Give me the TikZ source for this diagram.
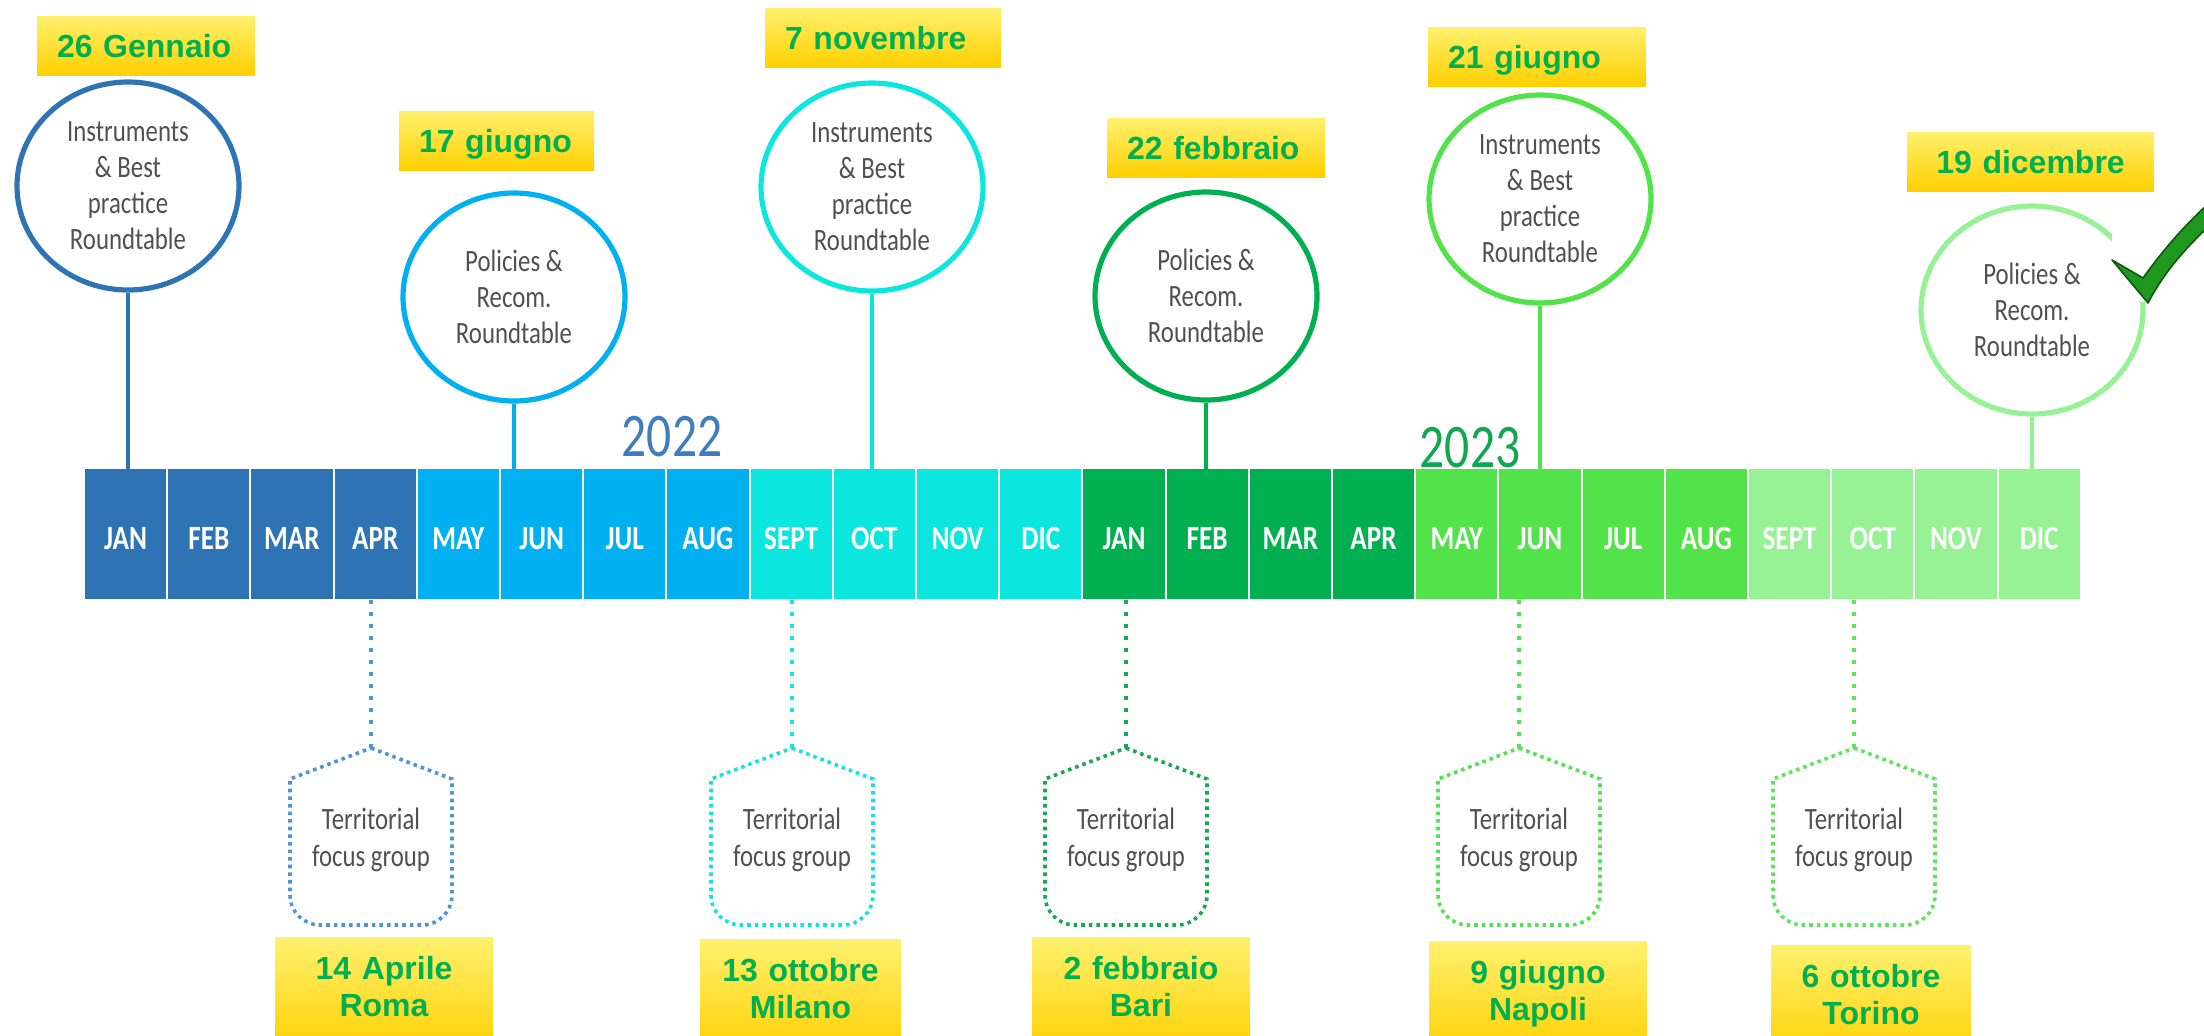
\documentclass[tikz,border=0pt]{standalone}
\usepackage{fontspec}
\setmainfont{Liberation Sans}
\newfontfamily\condfont[FakeStretch=0.8]{Carlito}
\usepackage{tikz}
\usetikzlibrary{shapes.geometric,calc}

% 颜色
\definecolor{bar0}{HTML}{2E74B5}
\definecolor{bar1}{HTML}{00B0F0}
\definecolor{bar2}{HTML}{0BE6DF}
\definecolor{bar3}{HTML}{00B050}
\definecolor{bar4}{HTML}{52E34B}
\definecolor{bar5}{HTML}{96F295}
\definecolor{fg1c}{HTML}{4F93D8}
\definecolor{fg2c}{HTML}{14E2E2}
\definecolor{fg3c}{HTML}{17A852}
\definecolor{fg4c}{HTML}{52E352}
\definecolor{fg5c}{HTML}{5CE65C}
\definecolor{txtgray}{HTML}{505050}
\definecolor{dategreen}{HTML}{00B050}
\definecolor{boxtop}{HTML}{FFF06E}
\definecolor{boxbot}{HTML}{FFD000}
\definecolor{yr22}{HTML}{3F7DC0}
\definecolor{yr23}{HTML}{10A84F}
\definecolor{checkfill}{HTML}{1E981E}
\definecolor{checkline}{HTML}{0B5A0B}

\tikzset{
    month/.style={rectangle, inner sep=0pt, minimum width=40.6pt, minimum height=65pt,
        text=white, font=\condfont\bfseries\fontsize{17}{20}\selectfont,
        text height=15pt, text depth=0pt},
    roundtable/.style={ellipse, line width=2.6pt, inner sep=0pt, minimum width=111pt,
        minimum height=104pt, align=center, text=txtgray,
        font=\condfont\fontsize{15.5}{18}\selectfont},
    stem/.style={line width=2.2pt},
    datebox/.style={top color=boxtop, bottom color=boxbot, text=dategreen,
        font=\bfseries\fontsize{16}{18.5}\selectfont, inner xsep=10pt, inner ysep=9pt,
        text height=11.5pt, text depth=0pt, align=left},
    placebox/.style={top color=boxtop, bottom color=boxbot, text=dategreen,
        font=\bfseries\fontsize{16}{18.5}\selectfont, inner xsep=0pt, inner ysep=9pt,
        align=center, anchor=north, text height=12pt, text depth=28pt},
    fgtext/.style={align=center, text=txtgray, font=\condfont\fontsize{15.5}{18.5}\selectfont},
    dotstem/.style={line width=1.9pt, dash pattern=on 2pt off 4pt},
    dotline/.style={line width=1.8pt, dash pattern=on 1.8pt off 2pt},
    yearlbl/.style={font=\condfont\fontsize{31}{34}\selectfont},
    checkmark/.style={fill=checkfill, draw=checkline, line width=0.8pt, line join=round}
}

\begin{document}
\begin{tikzpicture}[x=0.5pt,y=-0.5pt]
    \useasboundingbox (0,0) rectangle (2204,1035);
    \clip (0,0) rectangle (2204,1035);

    % 月份条
    \foreach \m [count=\i] in {JAN,FEB,MAR,APR,MAY,JUN,JUL,AUG,SEPT,OCT,NOV,DIC,
                               JAN,FEB,MAR,APR,MAY,JUN,JUL,AUG,SEPT,OCT,NOV,DIC} {
        \pgfmathtruncatemacro{\g}{(\i-1)/4}
        \node[month, fill=bar\g] (m\i) at ({84+83.2*(\i-0.5)},534) {\m};
    }

    % 年份
    \node[yearlbl, text=yr22] (y22) at (672,437) {2022};
    \node[yearlbl, text=yr23] (y23) at (1470,448) {2023};

    % 圆圈 Roundtable
    \node[roundtable, draw=bar0] (rt1) at (128,186) {Instruments\\\& Best\\practice\\Roundtable};
    \node[roundtable, draw=bar1] (rt2) at (514,297) {Policies \&\\Recom.\\Roundtable};
    \node[roundtable, draw=bar2] (rt3) at (872,187) {Instruments\\\& Best\\practice\\Roundtable};
    \node[roundtable, draw=bar3] (rt4) at (1206,296) {Policies \&\\Recom.\\Roundtable};
    \node[roundtable, draw=bar4] (rt5) at (1540,199) {Instruments\\\& Best\\practice\\Roundtable};
    \node[roundtable, draw=bar5] (rt6) at (2032,310) {Policies \&\\Recom.\\Roundtable};

    % 圆圈到月份的竖线
    \foreach \n/\mm/\col in {1/1/bar0,2/6/bar1,3/10/bar2,4/14/bar3,5/18/bar4,6/24/bar5}
        \draw[stem, draw=\col] (rt\n.south) -- (rt\n.south |- m\mm.north);

    % 上方日期
    \node[datebox, text width=89pt] (d1) at (146,45.5) {26 Gennaio};
    \node[datebox, text width=77.5pt] (d2) at (496.5,141) {17 giugno};
    \node[datebox, text width=98pt] (d3) at (883,37.5) {7 novembre};
    \node[datebox, text width=89pt] (d4) at (1216,147.5) {22 febbraio};
    \node[datebox, text width=89pt] (d5) at (1537,56.5) {21 giugno};
    \node[datebox, text width=103.5pt, align=center] (d6) at (2030.5,161.5) {19 dicembre};

    % 下方 focus group（虚线）
    \foreach \n/\x/\mm/\col in {1/371/4/fg1c,2/792/9/fg2c,3/1126/13/fg3c,4/1519/18/fg4c,5/1854/22/fg5c} {
        \node[fgtext] (fg\n) at (\x,840) {Territorial\\focus group};
        \coordinate (fgtop\n) at ($(fg\n)+(0,-92)$);
        \draw[dotstem, draw=\col] (fgtop\n) -- (fgtop\n |- m\mm.south);
        \draw[dotline, draw=\col] (fgtop\n) -- ++(81,31) -- ++(0,116)
            arc[start angle=0, end angle=90, radius=30] -- ++(-102,0)
            arc[start angle=90, end angle=180, radius=30] -- ++(0,-116) -- cycle;
    }

    % 下方日期和城市
    \node[placebox, text width=109pt] (p1) at (384,937) {14 Aprile\\Roma};
    \node[placebox, text width=100.5pt] (p2) at (800.5,939) {13 ottobre\\Milano};
    \node[placebox, text width=109pt] (p3) at (1141,937) {2 febbraio\\Bari};
    \node[placebox, text width=109pt] (p4) at (1538,941) {9 giugno\\Napoli};
    \node[placebox, text width=100pt] (p5) at (1871,945) {6 ottobre\\Torino};

    % 勾（白色底）
    \fill[white] (2112,195) rectangle (2204,302);
    \filldraw[checkmark] (2112,260) -- (2143,278)
        .. controls (2163,250) and (2184,226) .. (2208,204) -- (2208,227)
        .. controls (2186,248) and (2164,272) .. (2148,303) -- cycle;
\end{tikzpicture}
\end{document}
